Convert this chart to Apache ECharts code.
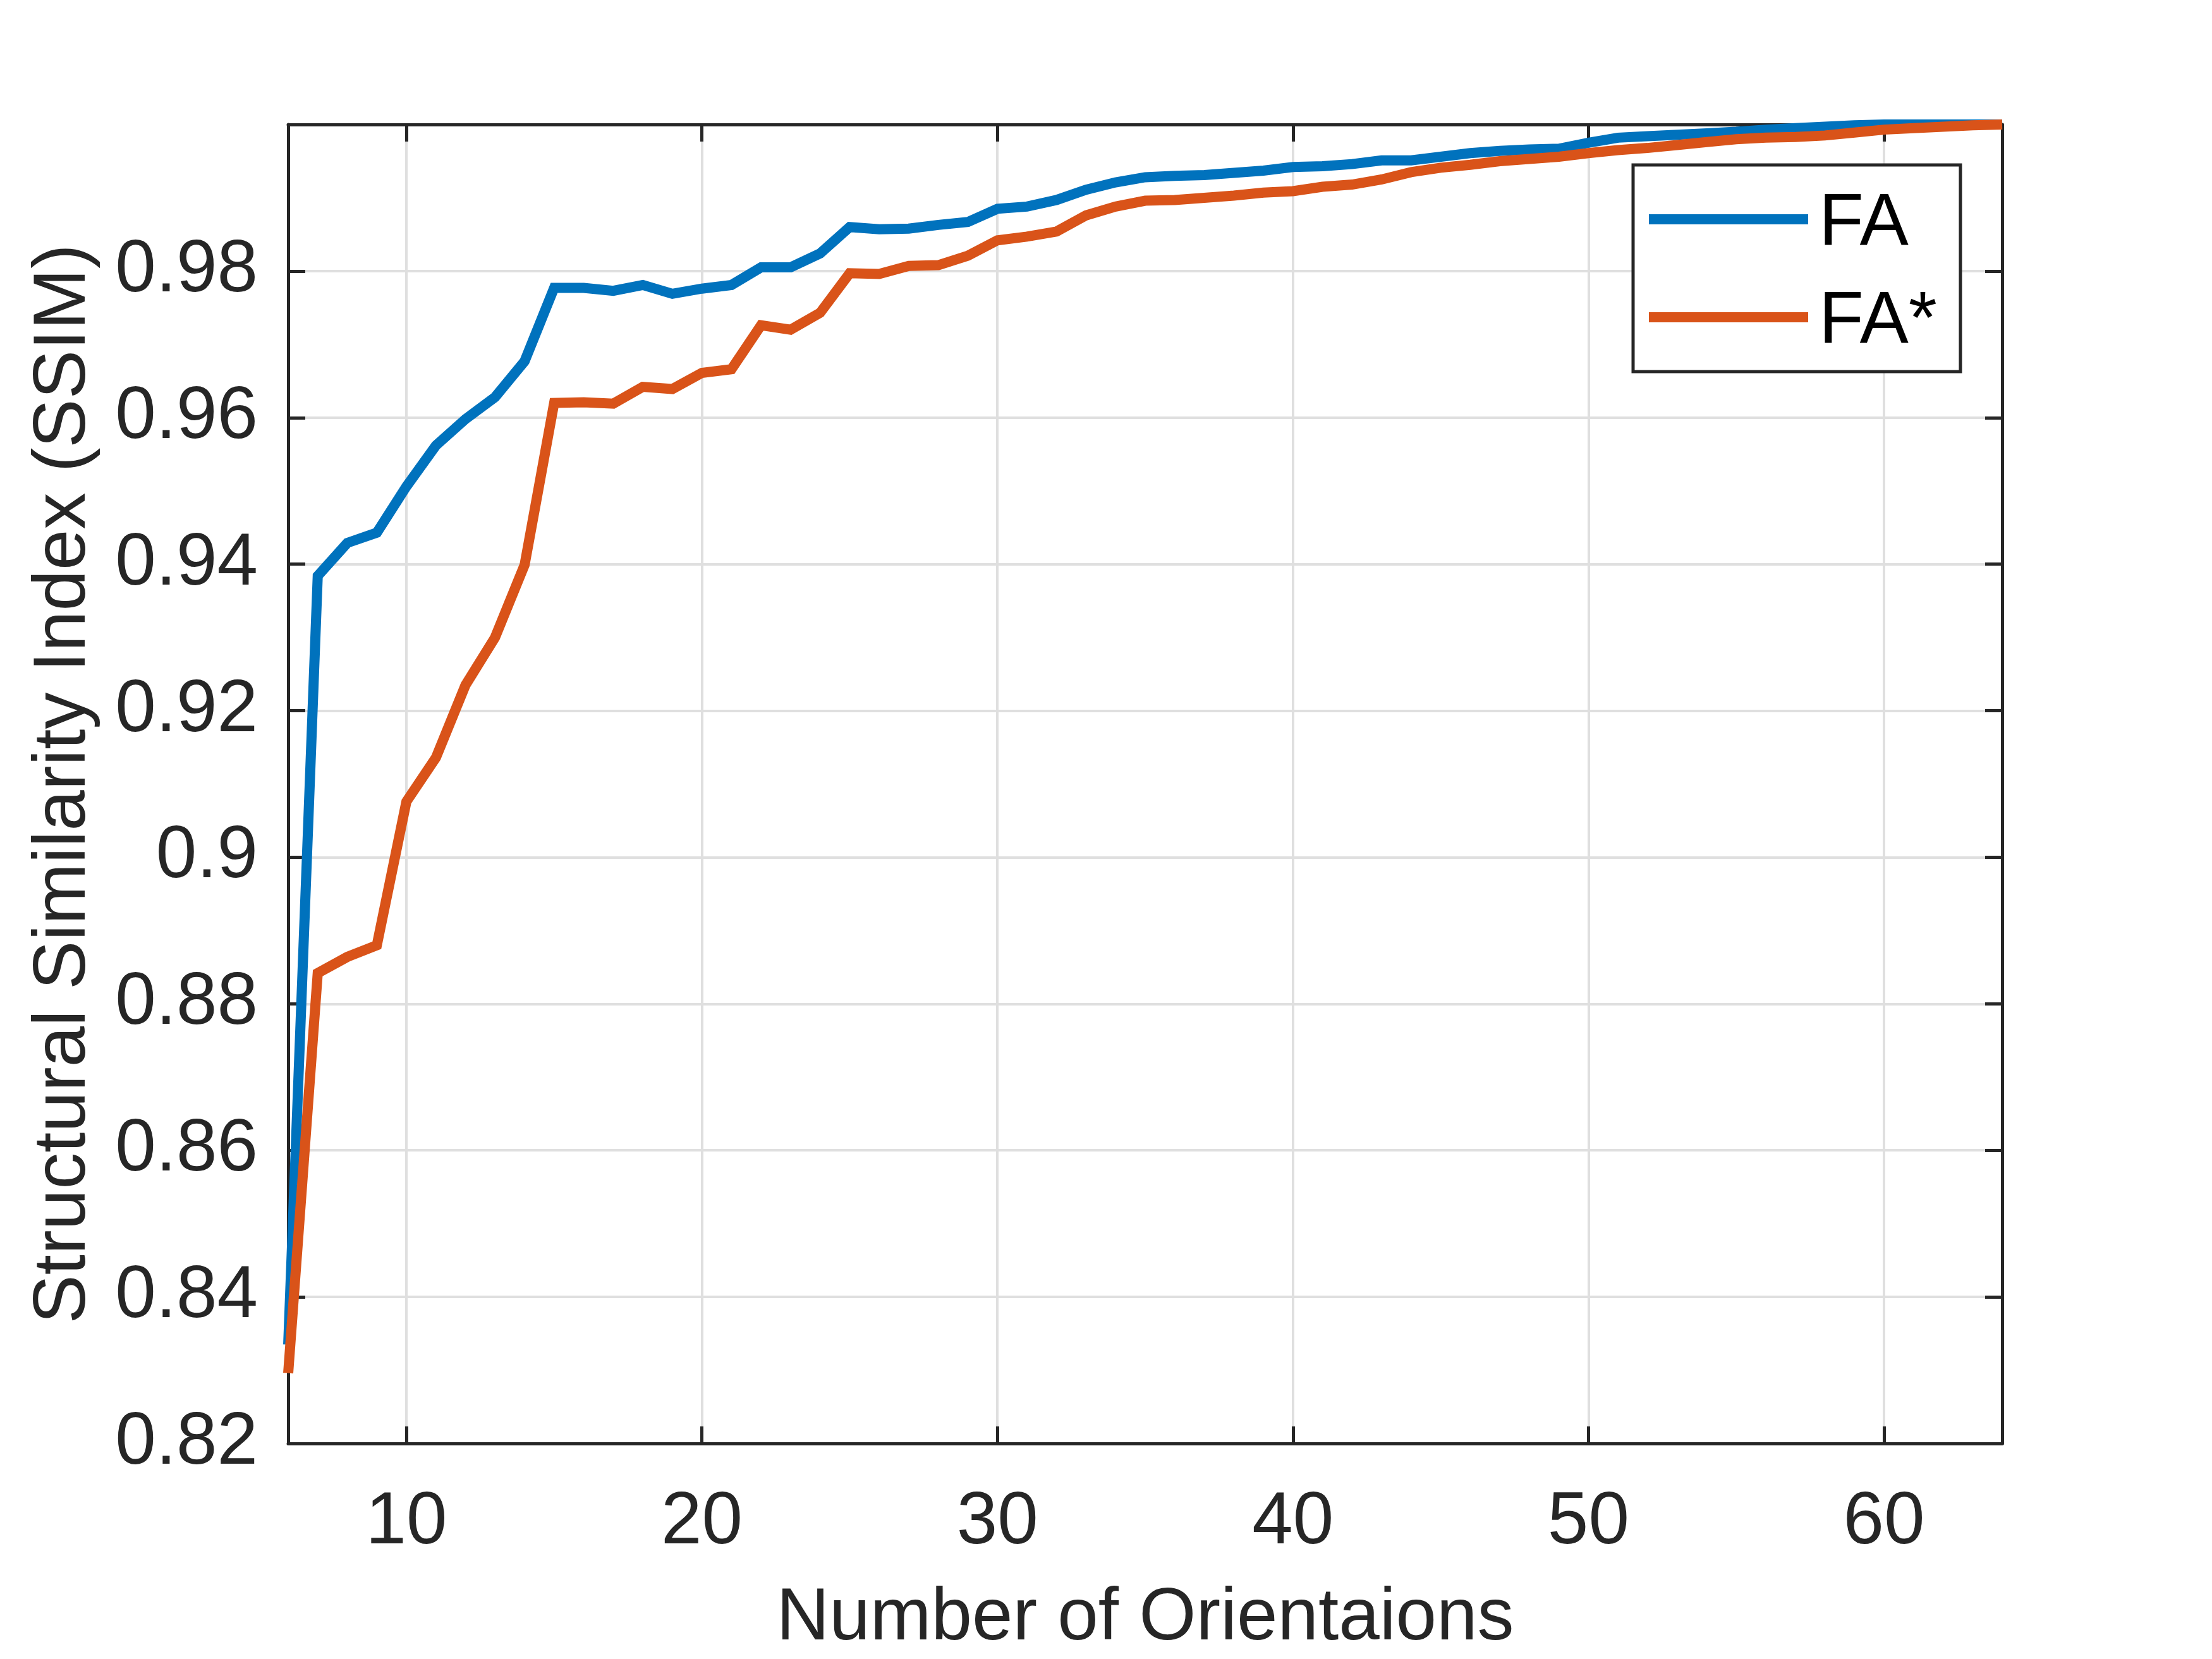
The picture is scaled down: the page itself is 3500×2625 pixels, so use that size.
<!DOCTYPE html>
<html>
<head>
<meta charset="utf-8">
<script src="https://cdn.jsdelivr.net/npm/echarts@6/dist/echarts.min.js"></script>
<style>
  html, body { margin: 0; padding: 0; background: #ffffff; }
  #chart { width: 3500px; height: 2625px; }
</style>
</head>
<body>
<div id="chart"></div>
<script>
// ---- data ----
const orientations = [6, 7, 8, 9, 10, 11, 12, 13, 14, 15, 16, 17, 18, 19, 20, 21, 22, 23, 24, 25,
  26, 27, 28, 29, 30, 31, 32, 33, 34, 35, 36, 37, 38, 39, 40, 41, 42, 43, 44, 45,
  46, 47, 48, 49, 50, 51, 52, 53, 54, 55, 56, 57, 58, 59, 60, 61, 62, 63, 64];

const faValues = [0.8335, 0.9384, 0.9429, 0.9443, 0.9506, 0.9562, 0.9598, 0.9628, 0.9677, 0.9777,
  0.9777, 0.9773, 0.9781, 0.9769, 0.9776, 0.9781, 0.9805, 0.9805, 0.9824, 0.9860,
  0.9857, 0.9858, 0.9863, 0.9867, 0.9885, 0.9888, 0.9897, 0.9911, 0.9921, 0.9928,
  0.9930, 0.9931, 0.9934, 0.9937, 0.9942, 0.9943, 0.9946, 0.9951, 0.9951, 0.9956,
  0.9961, 0.9964, 0.9966, 0.9967, 0.9975, 0.9982, 0.9984, 0.9986, 0.9988, 0.9990,
  0.9993, 0.9995, 0.9997, 0.9999, 1.0000, 1.0000, 1.0000, 1.0000, 1.0000];

const faStarValues = [0.8296, 0.8842, 0.8864, 0.8880, 0.9076, 0.9136, 0.9235, 0.9300, 0.9399, 0.9620,
  0.9621, 0.9619, 0.9642, 0.9639, 0.9661, 0.9666, 0.9726, 0.9720, 0.9743, 0.9797,
  0.9796, 0.9807, 0.9808, 0.9821, 0.9842, 0.9847, 0.9854, 0.9876, 0.9888, 0.9896,
  0.9897, 0.9900, 0.9903, 0.9907, 0.9909, 0.9915, 0.9918, 0.9925, 0.9935, 0.9941,
  0.9945, 0.9950, 0.9953, 0.9956, 0.9961, 0.9965, 0.9968, 0.9972, 0.9976, 0.9980,
  0.9982, 0.9983, 0.9985, 0.9989, 0.9993, 0.9995, 0.9997, 0.9999, 1.0000];

const xTickValues = [10, 20, 30, 40, 50, 60];
const yTickValues = [0.82, 0.84, 0.86, 0.88, 0.9, 0.92, 0.94, 0.96, 0.98];

const seriesNames = ['FA', 'FA*'];
const xAxisTitle = 'Number of Orientaions';
const yAxisTitle = 'Structural Similarity Index (SSIM)';

// ---- styling ----
const FONT = "'Liberation Sans', Arial, Helvetica, sans-serif";
const AXIS_COLOR = '#262626';
const FS = 116;

function pairs(xs, ys) { return xs.map((x, i) => [x, ys[i]]); }

const baseAxisLine = { show: true, lineStyle: { color: AXIS_COLOR, width: 5 } };
const baseTick = { show: true, inside: true, length: 27, lineStyle: { color: AXIS_COLOR, width: 5 } };

const chart = echarts.init(document.getElementById('chart'), null, { width: 3500, height: 2625 });

const option = {
  backgroundColor: '#ffffff',
  animation: false,
  grid: { left: 456, right: 332, top: 197, bottom: 337, containLabel: false },
  legend: {
    orient: 'vertical',
    left: 2584,
    top: 261,
    padding: [19, 37, 19, 25],
    itemGap: 21,
    itemWidth: 252,
    itemHeight: 16,
    icon: 'rect',
    backgroundColor: '#ffffff',
    borderColor: AXIS_COLOR,
    borderWidth: 5,
    borderRadius: 0,
    formatter: function (name) { return '{t|' + name + '}'; },
    textStyle: {
      fontFamily: FONT, fontSize: FS, color: '#000000',
      rich: {
        t: { fontFamily: FONT, fontSize: FS, color: '#000000', lineHeight: 116, padding: [18, 0, 0, 12] }
      }
    },
    data: seriesNames
  },
  xAxis: [
    {
      type: 'value',
      min: 6,
      max: 64,
      position: 'bottom',
      name: xAxisTitle,
      nameLocation: 'middle',
      nameGap: 220,
      nameTextStyle: { fontFamily: FONT, fontSize: FS, color: AXIS_COLOR },
      axisLine: baseAxisLine,
      axisTick: Object.assign({ customValues: xTickValues }, baseTick),
      axisLabel: { show: true, customValues: xTickValues, margin: 68, fontFamily: FONT, fontSize: FS, color: AXIS_COLOR },
      splitLine: { show: true, lineStyle: { color: '#dfdfdf', width: 4 } }
    },
    {
      type: 'value',
      min: 6,
      max: 64,
      position: 'top',
      axisLine: baseAxisLine,
      axisTick: Object.assign({ customValues: xTickValues }, baseTick),
      axisLabel: { show: false, customValues: xTickValues },
      splitLine: { show: false }
    }
  ],
  yAxis: [
    {
      type: 'value',
      min: 0.82,
      max: 1.0,
      interval: 0.02,
      position: 'left',
      name: yAxisTitle,
      nameLocation: 'middle',
      nameGap: 296,
      nameTextStyle: { fontFamily: FONT, fontSize: FS, color: AXIS_COLOR },
      axisLine: baseAxisLine,
      axisTick: baseTick,
      axisLabel: {
        show: true, margin: 48, fontFamily: FONT, fontSize: FS, color: AXIS_COLOR,
        formatter: function (v) { return v > 0.99 ? '' : String(+v.toFixed(2)); }
      },
      splitLine: { show: true, lineStyle: { color: '#dfdfdf', width: 4 } }
    },
    {
      type: 'value',
      min: 0.82,
      max: 1.0,
      interval: 0.02,
      position: 'right',
      axisLine: baseAxisLine,
      axisTick: baseTick,
      axisLabel: { show: false },
      splitLine: { show: false }
    }
  ],
  series: [
    {
      name: seriesNames[0],
      type: 'line',
      xAxisIndex: 0,
      yAxisIndex: 0,
      data: pairs(orientations, faValues),
      showSymbol: false,
      symbol: 'none',
      lineStyle: { color: '#0072BD', width: 16, join: 'miter' },
      itemStyle: { color: '#0072BD' },
      z: 3
    },
    {
      name: seriesNames[1],
      type: 'line',
      xAxisIndex: 0,
      yAxisIndex: 0,
      data: pairs(orientations, faStarValues),
      showSymbol: false,
      symbol: 'none',
      lineStyle: { color: '#D95319', width: 16, join: 'miter' },
      itemStyle: { color: '#D95319' },
      z: 4
    }
  ]
};

chart.setOption(option);
</script>
</body>
</html>
